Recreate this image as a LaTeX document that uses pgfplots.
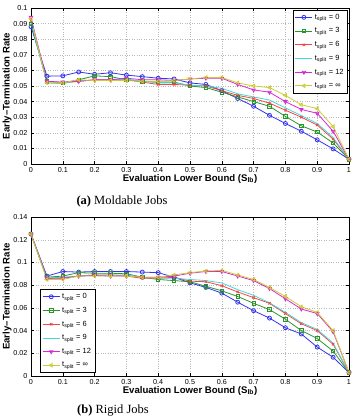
\documentclass[border=0pt]{standalone}
\usepackage{pgfplots}
\pgfplotsset{compat=1.18}
\usepackage{fontspec}
\setmainfont{Liberation Sans}
\newfontfamily\capfont{Liberation Serif}
\definecolor{colB}{RGB}{50,50,240}
\definecolor{colG}{RGB}{40,150,40}
\definecolor{colR}{RGB}{245,70,70}
\definecolor{colC}{RGB}{70,215,215}
\definecolor{colM}{RGB}{215,40,215}
\definecolor{colY}{RGB}{205,205,50}
\pgfplotsset{
  myax/.style={
    width=318pt, scale only axis,
    xmin=0, xmax=1,
    xtick={0,0.1,0.2,0.3,0.4,0.5,0.6,0.7,0.8,0.9,1},
    xticklabels={0,0.1,0.2,0.3,0.4,0.5,0.6,0.7,0.8,0.9,1},
    grid=major, grid style={dotted, gray!55, line width=0.4pt},
    tick align=inside, major tick length=3pt,
    axis line style={line width=0.6pt},
    tick style={line width=0.5pt, black},
    /pgf/number format/assume math mode=true,
    ticklabel style={font=\fontsize{7.2}{8}\selectfont},
    scaled ticks=false,
    xlabel={\textbf{Evaluation Lower Bound (S\textsubscript{lb})}},
    ylabel={\textbf{Early--Termination Rate}},
    label style={font=\fontsize{9.6}{10}\selectfont},
    xlabel style={yshift=5pt},
    ylabel style={yshift=-5pt},
    legend style={font=\fontsize{7.5}{8}\selectfont, draw=black, line width=0.8pt, inner sep=2pt, row sep=3pt, legend cell align=left},
    every axis plot/.append style={line width=0.8pt, mark size=2pt, mark options={solid, fill opacity=0.3}},
  },
  sb/.style={colB, mark=o},
  sg/.style={colG, mark=square, mark size=1.7pt},
  sr/.style={colR, mark=x, mark size=1.7pt},
  sc/.style={colC, mark=none},
  sm/.style={colM, mark=triangle, mark options={rotate=180, solid}},
  sy/.style={colY, mark=triangle, mark options={rotate=90, solid}},
}
\begin{document}
\begin{tikzpicture}
\path[use as bounding box] (-31pt,8pt) rectangle (321pt,-410pt);
\begin{axis}[myax, at={(0,0)}, anchor=north west, height=156pt,
  ymin=0, ymax=0.1,
  ytick={0,0.01,0.02,0.03,0.04,0.05,0.06,0.07,0.08,0.09,0.1},
  yticklabels={0,0.01,0.02,0.03,0.04,0.05,0.06,0.07,0.08,0.09,0.1},
  legend pos=north east, legend style={at={(0.997,0.99)}}]
\addplot[sb] coordinates {(0,0.088)(0.05,0.0563)(0.1,0.0565)(0.15,0.059)(0.2,0.0575)(0.25,0.0585)(0.3,0.057)(0.35,0.056)(0.4,0.055)(0.45,0.0545)(0.5,0.052)(0.55,0.051)(0.6,0.047)(0.65,0.042)(0.7,0.037)(0.75,0.0312)(0.8,0.026)(0.85,0.021)(0.9,0.0155)(0.95,0.0097)(1,0.003)};
\addplot[sg] coordinates {(0,0.090)(0.05,0.053)(0.1,0.052)(0.15,0.054)(0.2,0.0565)(0.25,0.056)(0.3,0.054)(0.35,0.053)(0.4,0.0525)(0.45,0.0525)(0.5,0.050)(0.55,0.049)(0.6,0.046)(0.65,0.043)(0.7,0.040)(0.75,0.037)(0.8,0.0305)(0.85,0.0245)(0.9,0.0205)(0.95,0.0135)(1,0.003)};
\addplot[sr] coordinates {(0,0.092)(0.05,0.053)(0.1,0.052)(0.15,0.053)(0.2,0.054)(0.25,0.054)(0.3,0.054)(0.35,0.0525)(0.4,0.051)(0.45,0.051)(0.5,0.0505)(0.55,0.050)(0.6,0.047)(0.65,0.044)(0.7,0.042)(0.75,0.039)(0.8,0.0345)(0.85,0.030)(0.9,0.025)(0.95,0.016)(1,0.003)};
\addplot[sc] coordinates {(0,0.091)(0.05,0.052)(0.1,0.0515)(0.15,0.0535)(0.2,0.0535)(0.25,0.054)(0.3,0.0545)(0.35,0.053)(0.4,0.052)(0.45,0.052)(0.5,0.0505)(0.55,0.050)(0.6,0.0485)(0.65,0.045)(0.7,0.043)(0.75,0.041)(0.8,0.036)(0.85,0.031)(0.9,0.026)(0.95,0.017)(1,0.003)};
\addplot[sm] coordinates {(0,0.094)(0.05,0.053)(0.1,0.0525)(0.15,0.053)(0.2,0.054)(0.25,0.054)(0.3,0.055)(0.35,0.054)(0.4,0.054)(0.45,0.0535)(0.5,0.0545)(0.55,0.055)(0.6,0.055)(0.65,0.051)(0.7,0.0475)(0.75,0.046)(0.8,0.040)(0.85,0.035)(0.9,0.0325)(0.95,0.021)(1,0.003)};
\addplot[sy] coordinates {(0,0.093)(0.05,0.052)(0.1,0.052)(0.15,0.054)(0.2,0.0535)(0.25,0.0535)(0.3,0.0535)(0.35,0.053)(0.4,0.053)(0.45,0.0535)(0.5,0.0545)(0.55,0.0555)(0.6,0.0555)(0.65,0.052)(0.7,0.050)(0.75,0.049)(0.8,0.044)(0.85,0.038)(0.9,0.0355)(0.95,0.024)(1,0.003)};
\legend{t\textsubscript{split} = 0, t\textsubscript{split} = 3, t\textsubscript{split} = 6, t\textsubscript{split} = 9, t\textsubscript{split} = 12, t\textsubscript{split} = ∞}
\end{axis}
\node[font=\capfont\fontsize{12.5}{14}\selectfont] at (91pt,-193pt) {\textbf{(a)} Moldable Jobs};
\begin{axis}[myax, at={(0,-209pt)}, anchor=north west, height=159pt,
  ymin=0, ymax=0.14,
  ytick={0,0.02,0.04,0.06,0.08,0.1,0.12,0.14},
  yticklabels={0,0.02,0.04,0.06,0.08,0.1,0.12,0.14},
  legend style={at={(0.028,0.02)}, anchor=south west}]
\addplot[sb] coordinates {(0,0.125)(0.05,0.088)(0.1,0.092)(0.15,0.0915)(0.2,0.092)(0.25,0.092)(0.3,0.092)(0.35,0.0915)(0.4,0.091)(0.45,0.087)(0.5,0.082)(0.55,0.078)(0.6,0.073)(0.65,0.065)(0.7,0.0575)(0.75,0.051)(0.8,0.0425)(0.85,0.037)(0.9,0.0255)(0.95,0.0165)(1,0.003)};
\addplot[sg] coordinates {(0,0.125)(0.05,0.087)(0.1,0.088)(0.15,0.091)(0.2,0.0905)(0.25,0.0905)(0.3,0.090)(0.35,0.087)(0.4,0.085)(0.45,0.084)(0.5,0.083)(0.55,0.079)(0.6,0.075)(0.65,0.070)(0.7,0.064)(0.75,0.0585)(0.8,0.050)(0.85,0.040)(0.9,0.033)(0.95,0.022)(1,0.003)};
\addplot[sr] coordinates {(0,0.125)(0.05,0.086)(0.1,0.0865)(0.15,0.088)(0.2,0.089)(0.25,0.089)(0.3,0.088)(0.35,0.086)(0.4,0.086)(0.45,0.087)(0.5,0.0835)(0.55,0.083)(0.6,0.0795)(0.65,0.074)(0.7,0.069)(0.75,0.064)(0.8,0.055)(0.85,0.046)(0.9,0.040)(0.95,0.028)(1,0.003)};
\addplot[sc] coordinates {(0,0.125)(0.05,0.086)(0.1,0.087)(0.15,0.088)(0.2,0.089)(0.25,0.089)(0.3,0.089)(0.35,0.087)(0.4,0.086)(0.45,0.086)(0.5,0.085)(0.55,0.084)(0.6,0.082)(0.65,0.076)(0.7,0.071)(0.75,0.0645)(0.8,0.056)(0.85,0.047)(0.9,0.041)(0.95,0.029)(1,0.003)};
\addplot[sm] coordinates {(0,0.125)(0.05,0.086)(0.1,0.086)(0.15,0.088)(0.2,0.0885)(0.25,0.088)(0.3,0.088)(0.35,0.087)(0.4,0.087)(0.45,0.088)(0.5,0.0905)(0.55,0.092)(0.6,0.092)(0.65,0.088)(0.7,0.084)(0.75,0.077)(0.8,0.068)(0.85,0.059)(0.9,0.055)(0.95,0.039)(1,0.003)};
\addplot[sy] coordinates {(0,0.125)(0.05,0.085)(0.1,0.085)(0.15,0.088)(0.2,0.088)(0.25,0.088)(0.3,0.088)(0.35,0.087)(0.4,0.087)(0.45,0.089)(0.5,0.091)(0.55,0.0925)(0.6,0.093)(0.65,0.089)(0.7,0.085)(0.75,0.078)(0.8,0.070)(0.85,0.061)(0.9,0.056)(0.95,0.040)(1,0.003)};
\legend{t\textsubscript{split} = 0, t\textsubscript{split} = 3, t\textsubscript{split} = 6, t\textsubscript{split} = 9, t\textsubscript{split} = 12, t\textsubscript{split} = ∞}
\end{axis}
\node[font=\capfont\fontsize{12.5}{14}\selectfont] at (82pt,-403pt) {\textbf{(b)} Rigid Jobs};
\end{tikzpicture}
\end{document}
